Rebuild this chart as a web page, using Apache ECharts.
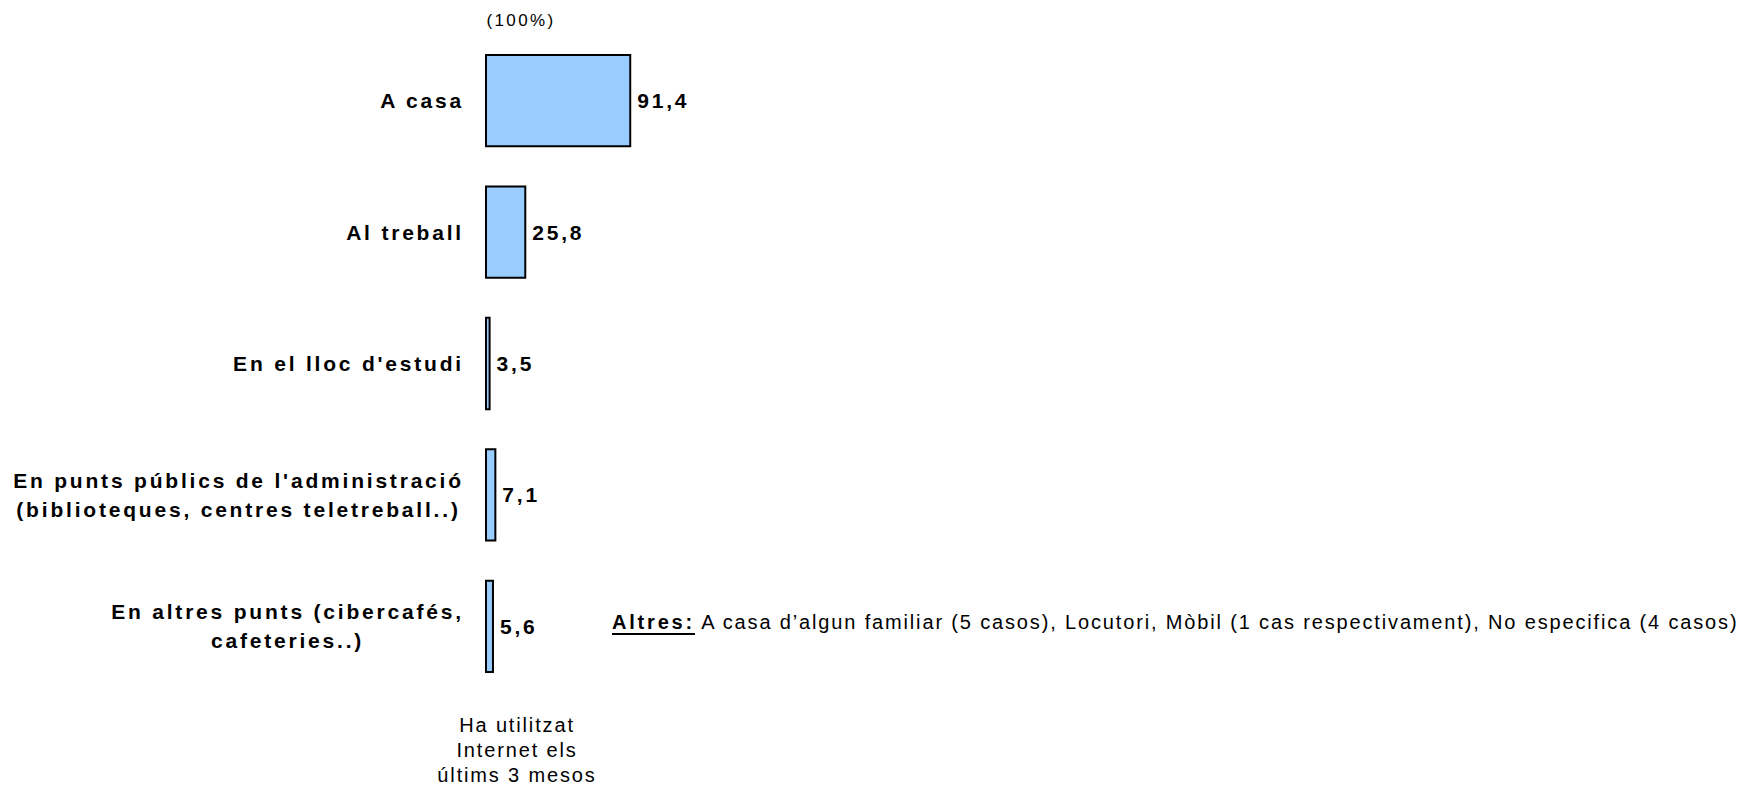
<!DOCTYPE html>
<html>
<head>
<meta charset="utf-8">
<script src="https://cdn.jsdelivr.net/npm/echarts@6/dist/echarts.min.js"></script>
<style>
  html, body { margin: 0; padding: 0; background: #ffffff; }
  #chart { width: 1757px; height: 785px; }
  #chart svg text { letter-spacing: 1.85px; }
  #chart svg text[style*="bold"] { letter-spacing: 2.8px; }
  #chart svg text[style*="17px"] { letter-spacing: 2.4px; }
  #chart svg text[style*="Arial"] { text-decoration: underline; }
</style>
</head>
<body>
<div id="chart"></div>
<script>
// ---- data ----
const categories = [
  'A casa',
  'Al treball',
  "En el lloc d'estudi",
  "En punts públics de l'administració\n(biblioteques, centres teletreball..)",
  'En altres punts (cibercafés,\ncafeteries..)'
];
const values = [91.4, 25.8, 3.5, 7.1, 5.6];
const topNote = '(100%)';
const bottomNote = 'Ha utilitzat\nInternet els\núltims 3 mesos';
const othersLabel = 'Altres:';
const othersText = 'A casa d’algun familiar (5 casos), Locutori, Mòbil (1 cas respectivament), No especifica (4 casos)';

// ---- text measuring that accounts for the CSS letter spacing ----
const FONT = "'Liberation Sans', sans-serif";
const mctx = document.createElement('canvas').getContext('2d');
function spacingFor(font) {
  if (/bold/.test(font)) return 2.8;
  if (/17px/.test(font)) return 2.4;
  return 1.85;
}
function measure(text, font) {
  mctx.font = font || '12px sans-serif';
  const m = mctx.measureText(text);
  const n = Array.from(text || '').length;
  return {
    width: m.width + spacingFor(font || '') * n,
    actualBoundingBoxAscent: m.actualBoundingBoxAscent,
    actualBoundingBoxDescent: m.actualBoundingBoxDescent,
    actualBoundingBoxLeft: m.actualBoundingBoxLeft,
    actualBoundingBoxRight: m.actualBoundingBoxRight,
    fontBoundingBoxAscent: m.fontBoundingBoxAscent,
    fontBoundingBoxDescent: m.fontBoundingBoxDescent
  };
}
if (echarts.setPlatformAPI) {
  echarts.setPlatformAPI({ measureText: measure });
}

// rich styles for the two-line category labels: each line centred in the block
const LABEL_FONT = "bold 21px 'Liberation Sans', sans-serif";
const labelRich = {};
const labelKey = {};
categories.forEach(function (c, i) {
  if (c.indexOf('\n') < 0) return;
  const w = Math.max.apply(null, c.split('\n').map(function (l) { return measure(l, LABEL_FONT).width; }));
  const key = 'L' + i;
  labelKey[i] = key;
  labelRich[key] = {
    fontFamily: FONT, fontSize: 21, fontWeight: 'bold', color: '#000',
    lineHeight: 29, width: Math.ceil(w), align: 'center'
  };
});

const chart = echarts.init(document.getElementById('chart'), null, { renderer: 'svg', width: 1757, height: 785 });

const option = {
  backgroundColor: '#ffffff',
  animation: false,
  textStyle: { fontFamily: FONT },
  title: [
    {
      text: topNote,
      left: 521, top: 10, padding: 0,
      textAlign: 'center',
      textStyle: { fontFamily: FONT, fontSize: 17, fontWeight: 'normal', color: '#000', lineHeight: 20 }
    },
    {
      text: bottomNote,
      left: 517, top: 712, padding: 0,
      textAlign: 'center',
      textStyle: { fontFamily: FONT, fontSize: 20, fontWeight: 'normal', color: '#000', lineHeight: 25 }
    },
    {
      text: '{u|' + othersLabel + '} ' + othersText,
      left: 612, top: 610, padding: 0,
      textStyle: {
        fontFamily: FONT, fontSize: 20, fontWeight: 'normal', color: '#000', lineHeight: 24,
        rich: {
          u: { fontFamily: 'Arial', fontSize: 20, fontWeight: 'bold', color: '#000', lineHeight: 24 }
        }
      }
    }
  ],
  grid: {
    left: 485, top: 35, width: 160, height: 657,
    containLabel: false,
    outerBoundsMode: 'none'
  },
  xAxis: {
    type: 'value', min: 0, max: 100, show: false
  },
  yAxis: {
    type: 'category',
    data: categories,
    inverse: true,
    axisLine: { show: false },
    axisTick: { show: false },
    splitLine: { show: false },
    axisLabel: {
      margin: 21,
      color: '#000',
      fontFamily: FONT,
      fontSize: 21,
      fontWeight: 'bold',
      formatter: function (value, index) {
        const k = labelKey[index];
        if (!k) return value;
        return value.split('\n').map(function (l) { return '{' + k + '|' + l + '}'; }).join('\n');
      },
      rich: labelRich
    }
  },
  series: [{
    type: 'bar',
    data: values,
    barWidth: '71%',
    itemStyle: { color: '#99CCFF', borderColor: '#000000', borderWidth: 2 },
    label: {
      show: true,
      position: 'right',
      distance: 6,
      color: '#000',
      fontFamily: FONT,
      fontSize: 21,
      fontWeight: 'bold',
      formatter: function (p) { return p.value.toFixed(1).replace('.', ','); }
    }
  }]
};

chart.setOption(option);
</script>
</body>
</html>
